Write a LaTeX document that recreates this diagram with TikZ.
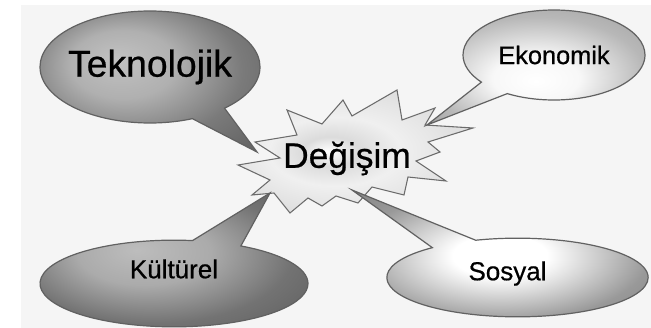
\documentclass[tikz,border=0pt]{standalone}
\usepackage{fontspec}
\setmainfont[FakeBold=0.6]{Liberation Sans}
\usetikzlibrary{shapes.callouts}

% grey shadings of the bubbles
\pgfdeclareradialshading{tekshade}{\pgfpoint{-8bp}{8bp}}{color(0bp)=(black!24); color(12bp)=(black!31); color(25bp)=(black!52); color(35bp)=(black!60); color(50bp)=(black!62)}
\pgfdeclareradialshading{kulshade}{\pgfpoint{-6bp}{4bp}}{color(0bp)=(black!26); color(12bp)=(black!33); color(25bp)=(black!55); color(35bp)=(black!62); color(50bp)=(black!62)}
\pgfdeclareradialshading{ekoshade}{\pgfpoint{0bp}{-6bp}}{color(0bp)=(white); color(10bp)=(black!3); color(25bp)=(black!28); color(35bp)=(black!36); color(50bp)=(black!36)}
\pgfdeclareradialshading{sosshade}{\pgfpoint{0bp}{0bp}}{color(0bp)=(white); color(8bp)=(white); color(25bp)=(black!40); color(35bp)=(black!48); color(50bp)=(black!48)}
\pgfdeclareradialshading{starshade}{\pgfpoint{-6bp}{0bp}}{color(0bp)=(white); color(6bp)=(black!14); color(14bp)=(black!6); color(25bp)=(black!12); color(50bp)=(black!12)}

\begin{document}
\begin{tikzpicture}[
    x=0.75pt, y=-0.75pt,
    bubble/.style={ellipse callout, draw=black!62, line width=0.9pt,
                   inner xsep=-12pt, inner ysep=0pt, callout pointer arc=22},
    starline/.style={draw=black!58, line width=0.8pt}
]

% ---------- background ----------
\useasboundingbox (0,0) rectangle (651,328);
\fill[black!4] (21,5) rectangle (651,328);

% ---------- star ----------
\path[starline, shading=starshade]
  (287,110) -- (322,124) -- (343,100) -- (352,116) -- (397,90) -- (402,120)
  -- (435,108) -- (425,125) -- (473,128) -- (428,142) -- (440,152) -- (416,161)
  -- (446,181) -- (408,177) -- (404,195) -- (372,187) -- (358,203) -- (336,196)
  -- (322,206) -- (308,198) -- (290,213) -- (274,193) -- (252,195) -- (270,180)
  -- (238,165) -- (280,158) -- (255,142) -- (297,135) -- cycle;

% ---------- tips of the pointers ----------
\coordinate (tek tip) at (257,152);
\coordinate (eko tip) at (427,125);
\coordinate (kul tip) at (270,193);
\coordinate (sos tip) at (352,190);

% ---------- bubbles ----------
\node[bubble, shading=tekshade, callout pointer arc=20,
      minimum width=165pt, minimum height=84pt,
      font=\fontsize{28}{30}\selectfont,
      callout absolute pointer=(tek tip)] (tek) at (150,67) {Teknolojik};
\node[bubble, shading=ekoshade,
      minimum width=136.5pt, minimum height=67.5pt,
      font=\fontsize{19}{21}\selectfont,
      callout absolute pointer=(eko tip)] (eko) at (554,55) {Ekonomik};
\node[bubble, shading=kulshade, text depth=22pt,
      minimum width=201pt, minimum height=65pt,
      font=\fontsize{19.5}{21}\selectfont,
      callout absolute pointer=(kul tip)] (kul) at (174,283.5) {Kültürel};
\node[bubble, shading=sosshade, text depth=10pt,
      minimum width=196pt, minimum height=59pt,
      font=\fontsize{19.5}{21}\selectfont,
      callout absolute pointer=(sos tip)] (sos) at (517.5,277.5) {Sosyal\hspace*{15pt}};

% ---------- centre text ----------
\node[font=\fontsize{26.5}{28}\selectfont, inner sep=0pt] (degisim) at (347,158.5) {Değişim};

\end{tikzpicture}
\end{document}
